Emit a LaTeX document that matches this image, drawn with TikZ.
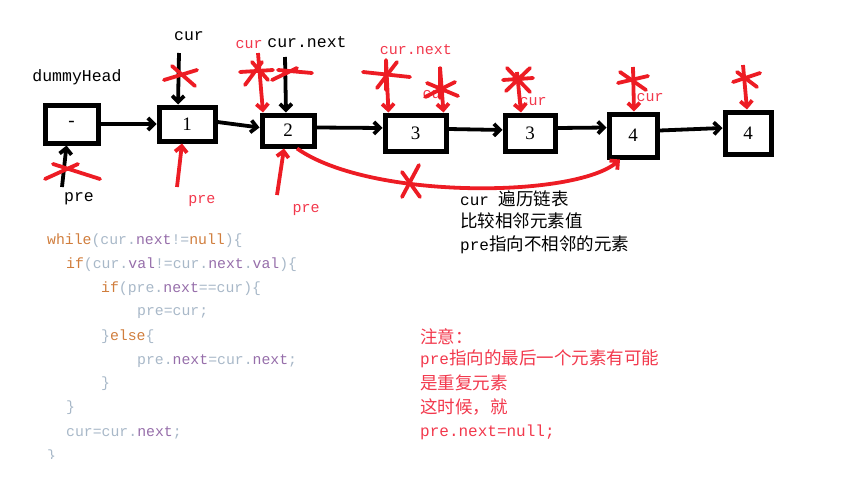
\documentclass[tikz,border=0pt]{standalone}
\usepackage{fontspec}
\setmainfont{Liberation Serif}
\setmonofont{Liberation Mono}
\newfontfamily\cjk{Noto Sans CJK SC}
\usetikzlibrary{arrows.meta}
\definecolor{pred}{RGB}{237,28,36}
\definecolor{tred}{RGB}{242,56,76}
\definecolor{kwc}{RGB}{208,125,60}
\definecolor{plc}{RGB}{168,184,200}
\definecolor{ppc}{RGB}{150,110,170}
\newcommand{\kw}[1]{\textcolor{kwc}{#1}}
\newcommand{\pp}[1]{\textcolor{ppc}{#1}}
\newcommand{\cj}[1]{{\cjk\fontsize{17.5}{19}\selectfont #1}}
\begin{document}
\begin{tikzpicture}[x=1pt,y=-1pt,
  box/.style={draw,line width=5pt,rectangle,inner sep=0pt,font=\fontsize{19}{20}\selectfont},
  blkarr/.style={line width=3.8pt,black,-{Straight Barb[length=6pt,width=12pt]}},
  redarr/.style={line width=3.8pt,pred,-{Straight Barb[length=6pt,width=12pt]}},
  redln/.style={line width=3.8pt,pred,line cap=round},
  lblk/.style={font=\ttfamily\fontsize{16.5}{18}\selectfont,inner sep=0pt},
  lred/.style={font=\ttfamily\fontsize{15}{16}\selectfont,text=tred,inner sep=0pt},
  codeln/.style={font=\ttfamily\fontsize{14.8}{16}\selectfont,text=plc,anchor=west,inner sep=0pt},
  txt/.style={anchor=west,inner sep=0pt,font=\ttfamily\fontsize{16}{18}\selectfont}]
\useasboundingbox (0,0) rectangle (841,479);

% boxes
\node[box,minimum width=53pt,minimum height=38pt] (n0) at (71.5,124) {-};
\node[box,minimum width=56pt,minimum height=34pt] (n1) at (187,124) {1};
\node[box,minimum width=52pt,minimum height=31pt] (n2) at (288,130.5) {2};
\node[box,minimum width=61pt,minimum height=36pt] (n3) at (415.5,133) {3};
\node[box,minimum width=50pt,minimum height=36pt] (n4) at (530,133) {3};
\node[box,minimum width=48pt,minimum height=43pt] (n5) at (633,135.5) {4};
\node[box,minimum width=46pt,minimum height=42pt] (n6) at (748,133) {4};

% links
\draw[blkarr] (n0.east) -- (n1.west);
\draw[blkarr] ([yshift=2pt]n1.east) -- ([yshift=3pt]n2.west);
\draw[blkarr] ([yshift=3pt]n2.east) -- ([yshift=5pt]n3.west);
\draw[blkarr] ([yshift=4pt]n3.east) -- ([yshift=3pt]n4.west);
\draw[blkarr] ([yshift=5pt]n4.east) -- ([yshift=8pt]n5.west);
\draw[blkarr] ([yshift=5pt]n5.east) -- ([yshift=5pt]n6.west);

% labels
\node[lblk] (dh) at (77,77) {dummyHead};
\node[lblk] (lcur) at (189,36) {cur};
\node[lblk] (lpre) at (79,199) {pre};
\node[lblk] (lcn) at (307,42) {cur.next};
\node[lred] (rpre1) at (202,201) {pre};
\node[lred] (rcur1) at (249,45) {cur};
\node[lred] (rpre2) at (306,210) {pre};
\node[lred] (rcn) at (416,50) {cur.next};
\node[lred] (rcur2) at (436,95) {cur};
\node[lred] (rcur3) at (533,102) {cur};
\node[lred] (rcur4) at (650,98) {cur};

% free ends
\coordinate (a1) at (179,53);
\coordinate (a2) at (62,187);
\coordinate (a3) at (177,187);
\coordinate (a4) at (258,53);
\coordinate (a5) at (285,57);
\coordinate (a6) at (277,195);
\coordinate (a7) at (386,60);
\coordinate (a8) at (440,67);
\coordinate (a9) at (517,72);
\coordinate (a10) at (633,67);
\coordinate (a11) at (743,65);

\draw[blkarr] (a1) -- ([xshift=-9pt]n1.north);
\draw[blkarr] (a2) -- ([xshift=-5pt]n0.south);
\draw[redarr] (a3) -- ([xshift=-5pt]n1.south);
\draw[redarr] (a4) -- ([xshift=-25pt]n2.north);
\draw[blkarr] (a5) -- ([xshift=-2pt]n2.north);
\draw[redarr] (a6) -- ([xshift=-4pt]n2.south);
\draw[redarr] (a7) -- ([xshift=-27pt]n3.north);
\draw[redarr] (a8) -- ([xshift=28pt]n3.north);
\draw[redarr] (a9) -- ([xshift=-9pt]n4.north);
\draw[redarr] (a10) -- ([xshift=1pt]n5.north);
\draw[redarr] (a11) -- ([xshift=-1pt]n6.north);

% curved arrow
\draw[redarr] ([xshift=9pt]n2.south) .. controls (370,200) and (575,198) .. ([xshift=-13pt]n5.south);

% crosses
\draw[redln] (164,80)--(197,70) (172,66)--(195,86);
\draw[redln] (45,179)--(78,164) (53,164)--(100,179);
\draw[redln] (240,72)--(273,70) (245,85)--(262,62) (252,62)--(268,80);
\draw[redln] (272,80)--(297,68) (278,70)--(312,73);
\draw[redln] (363,72)--(410,77) (377,88)--(397,62) (386,60)--(386,90);
\draw[redln] (427,83)--(458,96) (425,97)--(455,82) (440,68)--(440,98);
\draw[redln] (503,80)--(533,78) (506,91)--(530,68) (507,68)--(530,92);
\draw[redln] (618,83)--(648,76) (620,72)--(646,90);
\draw[redln] (733,82)--(760,73) (737,72)--(757,87);
\draw[redln] (402,172)--(420,197) (419,165)--(402,197);

% right texts
\node[txt] (t1) at (460,199) {cur \cj{遍历链表}};
\node[txt] (t2) at (460,221) {\cj{比较相邻元素值}};
\node[txt] (t3) at (460,245) {pre\cj{指向不相邻的元素}};

\node[txt,text=tred] (u1) at (420,337) {\cj{注意：}};
\node[txt,text=tred] (u2) at (420,359) {pre\cj{指向的最后一个元素有可能}};
\node[txt,text=tred] (u3) at (420,383) {\cj{是重复元素}};
\node[txt,text=tred] (u4) at (420,407) {\cj{这时候，就}};
\node[txt,text=tred] (u5) at (420,432) {pre.next=null;};

% code
\begin{scope}
\clip (0,0) rectangle (841,458);
\node[codeln] (c1) at (47,241) {\kw{while}(cur.\pp{next}!=\kw{null})\{};
\node[codeln] (c2) at (66,265) {\kw{if}(cur.\pp{val}!=cur.\pp{next}.\pp{val})\{};
\node[codeln] (c3) at (101,289) {\kw{if}(pre.\pp{next}==cur)\{};
\node[codeln] (c4) at (137,313) {pre=cur;};
\node[codeln] (c5) at (101,337) {\}\kw{else}\{};
\node[codeln] (c6) at (137,361) {pre.\pp{next}=cur.\pp{next};};
\node[codeln] (c7) at (101,384) {\}};
\node[codeln] (c8) at (66,408) {\}};
\node[codeln] (c9) at (66,433) {cur=cur.\pp{next};};
\node[codeln] (c10) at (47,457) {\}};
\end{scope}
\end{tikzpicture}
\end{document}
